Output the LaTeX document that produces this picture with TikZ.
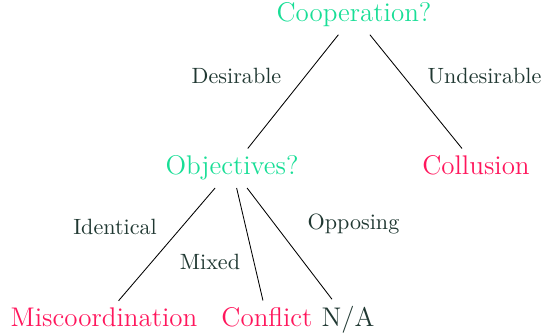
\documentclass[tikz,border=0pt]{standalone}
\definecolor{qgreen}{RGB}{24,222,150}
\definecolor{opink}{RGB}{255,22,92}
\definecolor{slate}{RGB}{32,56,50}
\newcommand{\nodesize}{\fontsize{12.7}{15}\selectfont}
\newcommand{\choicesize}{\fontsize{10.4}{12.5}\selectfont}
\tikzset{
        question/.style={text=qgreen, font=\nodesize, anchor=base},
        outcome/.style={text=opink, font=\nodesize, anchor=base},
        none/.style={text=slate, font=\nodesize, anchor=base},
        choice/.style={text=slate, font=\choicesize, anchor=base},
        branch/.style={draw=black, line width=0.4pt}
          }
\begin{document}
\begin{tikzpicture}[x=0.4706pt, y=-0.4706pt]
        \useasboundingbox (0,0) rectangle (544,333);
        % questions
        \node[question] (coop) at (354,22) {Cooperation?};
        \node[question] (obj) at (232,175) {Objectives?};
        % outcomes
        \node[outcome] (collusion) at (476,175) {Collusion};
        \node[outcome] (miscoord) at (104,327) {Miscoordination};
        \node[outcome] (conflict) at (267,327) {Conflict};
        \node[none] (na) at (348,327) {N/A};
        % branches
        \draw[branch] (coop) -- (obj);
        \draw[branch] (coop) -- (collusion);
        \draw[branch] (obj) -- (miscoord);
        \draw[branch] (obj) -- (conflict);
        \draw[branch] (obj) -- (na);
        % branch labels
        \node[choice] (desirable) at (236.5,84) {Desirable};
        \node[choice] (undesirable) at (484.5,84) {Undesirable};
        \node[choice] (identical) at (115,235) {Identical};
        \node[choice] (mixed) at (210,270) {Mixed};
        \node[choice] (opposing) at (353.5,230) {Opposing};
      \end{tikzpicture}
\end{document}
